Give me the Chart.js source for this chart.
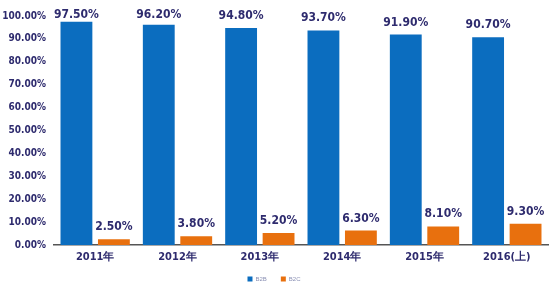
<!DOCTYPE html>
<html><head><meta charset="utf-8">
<script src="https://cdn.jsdelivr.net/npm/chart.js@4/dist/chart.umd.min.js"></script>
<style>html,body{margin:0;padding:0;background:#fff}#wrap{width:550px;height:283px}</style>
</head><body><div id="wrap"><canvas id="c" width="550" height="283"></canvas></div>
<script>
const categories = ["2011年","2012年","2013年","2014年","2015年","2016(上)"];
const b2b = [97.5, 96.2, 94.8, 93.7, 91.9, 90.7];
const b2c = [2.5, 3.8, 5.2, 6.3, 8.1, 9.3];
const yTicks = [0,10,20,30,40,50,60,70,80,90,100];
const textColor = '#2e2b6e';
const condensed = '"DejaVu Sans Condensed", "DejaVu Sans", sans-serif';

const labelPlugin = {
  id: 'labels',
  beforeLayout(chart) {
    const lg = chart.legend;
    if (lg && !lg._patched) {
      const f = lg.fit.bind(lg);
      lg.fit = function () { f(); this.height = 21; };
      lg._patched = true;
    }
  },
  afterDatasetsDraw(chart) {
    const ctx = chart.ctx;
    ctx.save();
    ctx.font = 'bold 12px ' + condensed;
    ctx.fillStyle = textColor;
    ctx.textAlign = 'center';
    ctx.textBaseline = 'alphabetic';
    chart.data.datasets.forEach((ds, i) => {
      chart.getDatasetMeta(i).data.forEach((bar, j) => {
        ctx.fillText(ds.data[j].toFixed(2) + '%', bar.x, Math.max(bar.y - 9, 18));
      });
    });
    ctx.restore();
  }
};

new Chart(document.getElementById('c'), {
  type: 'bar',
  data: {
    labels: categories,
    datasets: [
      {label: 'B2B', data: b2b, backgroundColor: '#0b6dbf', categoryPercentage: 0.91, barPercentage: 0.85},
      {label: 'B2C', data: b2c, backgroundColor: '#e8700e', categoryPercentage: 0.91, barPercentage: 0.85}
    ]
  },
  options: {
    responsive: false,
    animation: false,
    layout: {padding: {top: 16, right: 2, left: 0, bottom: 0}},
    plugins: {
      legend: {position: 'bottom', labels: {boxWidth: 5, boxHeight: 5, padding: 14, font: {size: 6}, color: '#8a90b4'}},
      tooltip: {enabled: false}
    },
    scales: {
      x: {
        afterFit(axis) { axis.height = 17; },
        grid: {display: false, drawTicks: false},
        border: {color: '#555', width: 1.5},
        ticks: {color: textColor, font: {size: 11, weight: 'bold', family: condensed}, padding: 6}
      },
      y: {
        min: 0, max: 100,
        afterBuildTicks(axis) { axis.ticks = yTicks.map(v => ({value: v})); },
        afterFit(axis) { axis.width = 54; },
        grid: {display: false, drawTicks: false},
        border: {display: false},
        ticks: {color: textColor, font: {size: 10, weight: 'bold', family: condensed}, padding: 8,
          callback: v => v.toFixed(2) + '%'}
      }
    }
  },
  plugins: [labelPlugin]
});
</script></body></html>
